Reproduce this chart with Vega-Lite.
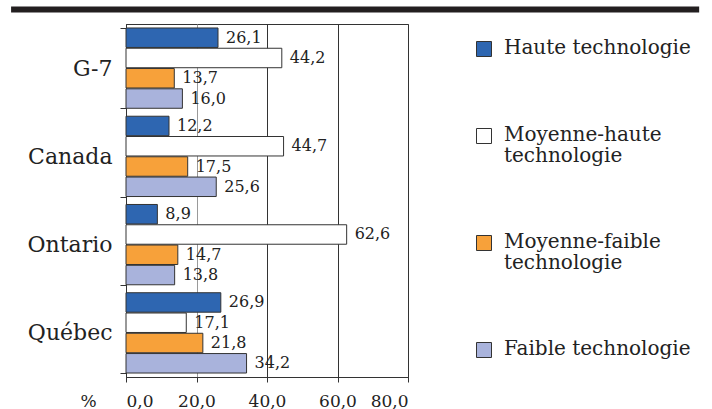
{
  "$schema": "https://vega.github.io/schema/vega-lite/v6.json",
  "width": 282,
  "height": 353,
  "autosize": {"type": "none"},
  "padding": {"left": 126, "top": 24, "right": 304, "bottom": 32},
  "background": "#ffffff",
  "config": {
    "locale": {"number": {"decimal": ",", "thousands": " ", "grouping": [3], "currency": ["", ""]}},
    "font": "DejaVu Serif",
    "view": {"stroke": "#333333", "strokeWidth": 1}
  },
  "data": {
    "values": [
      {"region": "G-7", "cat": "Haute technologie", "value": 26.1},
      {"region": "G-7", "cat": "Moyenne-haute technologie", "value": 44.2},
      {"region": "G-7", "cat": "Moyenne-faible technologie", "value": 13.7},
      {"region": "G-7", "cat": "Faible technologie", "value": 16.0},
      {"region": "Canada", "cat": "Haute technologie", "value": 12.2},
      {"region": "Canada", "cat": "Moyenne-haute technologie", "value": 44.7},
      {"region": "Canada", "cat": "Moyenne-faible technologie", "value": 17.5},
      {"region": "Canada", "cat": "Faible technologie", "value": 25.6},
      {"region": "Ontario", "cat": "Haute technologie", "value": 8.9},
      {"region": "Ontario", "cat": "Moyenne-haute technologie", "value": 62.6},
      {"region": "Ontario", "cat": "Moyenne-faible technologie", "value": 14.7},
      {"region": "Ontario", "cat": "Faible technologie", "value": 13.8},
      {"region": "Québec", "cat": "Haute technologie", "value": 26.9},
      {"region": "Québec", "cat": "Moyenne-haute technologie", "value": 17.1},
      {"region": "Québec", "cat": "Moyenne-faible technologie", "value": 21.8},
      {"region": "Québec", "cat": "Faible technologie", "value": 34.2}
    ]
  },
  "encoding": {
    "y": {
      "field": "region",
      "type": "nominal",
      "sort": ["G-7", "Canada", "Ontario", "Québec"],
      "scale": {"paddingInner": 0.09, "paddingOuter": 0.045},
      "axis": {
        "title": null,
        "labelFont": "DejaVu Serif",
        "labelFontSize": 22,
        "labelColor": "#222222",
        "tickBand": "extent",
        "tickSize": 6,
        "tickColor": "#333333",
        "domainColor": "#333333",
        "labelPadding": 8
      }
    },
    "yOffset": {
      "field": "cat",
      "sort": ["Haute technologie", "Moyenne-haute technologie", "Moyenne-faible technologie", "Faible technologie"],
      "scale": {"paddingInner": 0.04}
    }
  },
  "layer": [
    {
      "mark": {"type": "bar", "stroke": "#333333", "strokeWidth": 1},
      "encoding": {
        "x": {
          "field": "value",
          "type": "quantitative",
          "scale": {"domain": [0, 80], "nice": false},
          "axis": {
            "values": [0, 20, 40, 60, 80],
            "format": ".1f",
            "labelFont": "DejaVu Serif",
            "labelFontSize": 17,
            "labelColor": "#222222",
            "tickSize": 5,
            "tickColor": "#333333",
            "domainColor": "#333333",
            "labelPadding": 11,
            "grid": true,
            "gridColor": {"condition": {"test": "datum.value == 20", "value": "#9a9a9a"}, "value": "#333333"},
            "gridOpacity": 1,
            "title": "%",
            "titleFont": "DejaVu Serif",
            "titleFontSize": 17,
            "titleFontWeight": "normal",
            "titleColor": "#222222",
            "titleAngle": 0,
            "titleX": -38,
            "titleY": 29,
            "titleAlign": "center",
            "titleBaseline": "alphabetic"
          }
        },
        "color": {
          "field": "cat",
          "type": "nominal",
          "sort": ["Haute technologie", "Moyenne-haute technologie", "Moyenne-faible technologie", "Faible technologie"],
          "scale": {
            "domain": ["Haute technologie", "Moyenne-haute technologie", "Moyenne-faible technologie", "Faible technologie"],
            "range": ["#2e66b1", "#ffffff", "#f7a13a", "#a9b3dc"]
          },
          "legend": {
            "title": null,
            "orient": "none",
            "legendX": 348,
            "legendY": 15,
            "symbolType": "square",
            "symbolSize": 225,
            "symbolStrokeColor": "#333333",
            "symbolStrokeWidth": 1,
            "symbolOpacity": 1,
            "labelFont": "DejaVu Serif",
            "labelFontSize": 20,
            "labelColor": "#222222",
            "labelLimit": 0,
            "labelOffset": 10,
            "labelBaseline": "top",
            "rowPadding": 66,
            "labelExpr": "indexof(datum.label, '-') >= 0 ? split(datum.label, ' ') : datum.label",
            "encode": {"labels": {"update": {"dy": {"value": -11}, "lineHeight": {"value": 21}}}}
          }
        }
      }
    },
    {
      "mark": {"type": "text", "align": "left", "baseline": "middle", "dx": 8, "font": "DejaVu Serif", "fontSize": 16, "color": "#222222"},
      "encoding": {
        "x": {"field": "value", "type": "quantitative"},
        "text": {"field": "value", "type": "quantitative", "format": ".1f"}
      }
    },
    {
      "data": {"values": [{"a": -32.6, "b": 162.6}]},
      "mark": {"type": "rule", "color": "#231f20", "strokeWidth": 6, "clip": false},
      "encoding": {
        "x": {"field": "a", "type": "quantitative"},
        "x2": {"field": "b"},
        "y": {"value": -14.5},
        "yOffset": null
      }
    }
  ]
}
